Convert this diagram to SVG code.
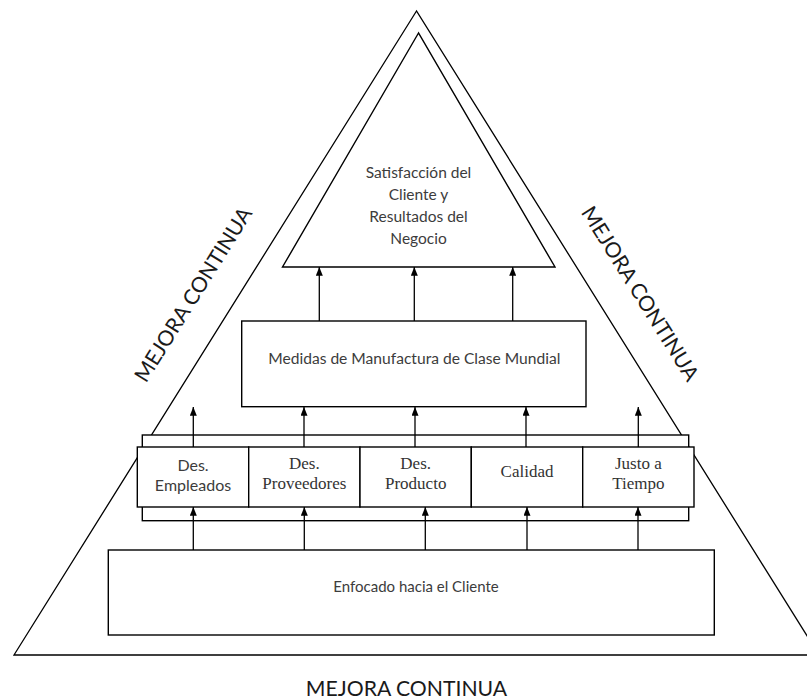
<svg xmlns="http://www.w3.org/2000/svg" width="807" height="700" viewBox="0 0 807 700">
<defs>
<style>
.ln{fill:none;stroke:#000;stroke-width:1.3}
.bx{fill:#fff;stroke:#000;stroke-width:1.4}
.sn{font-family:Lato,"Liberation Sans",sans-serif;fill:#3c3c3c;text-anchor:middle}
.sf{font-family:"Liberation Serif","Times New Roman",serif;fill:#333;text-anchor:middle;font-size:17px}
.mc{font-family:Lato,"Liberation Sans",sans-serif;fill:#1a1a1a;text-anchor:middle;font-size:21.2px}
.ar{fill:none;stroke:#000;stroke-width:1.3;marker-end:url(#ah)}
</style>
<marker id="ah" viewBox="0 0 10 8" refX="10" refY="4" markerWidth="9" markerHeight="7" markerUnits="userSpaceOnUse" orient="auto">
<path d="M0,0 L10,4 L0,8 z" fill="#000"/>
</marker>
</defs>
<rect width="807" height="700" fill="#fff"/>
<g id="outer-triangle">
<polygon class="ln" points="416.5,11 14,655 819,655"/>
</g>
<g id="satisfaccion">
<polygon class="bx" points="418.5,33 282.5,267 555,267"/>
<text class="sn" font-size="15.5" x="418.5" y="177.5">Satisfacción del</text>
<text class="sn" font-size="15.5" x="418.5" y="199.5">Cliente y</text>
<text class="sn" font-size="15.5" x="418.5" y="221.5">Resultados del</text>
<text class="sn" font-size="15.5" x="418.5" y="243.5">Negocio</text>
</g>
<g id="medidas">
<rect class="bx" x="241.7" y="321" width="344.3" height="85.7"/>
<text class="sn" font-size="15.6" x="414.3" y="364">Medidas de Manufactura de Clase Mundial</text>
</g>
<g id="pilares-marco">
<rect class="bx" x="142.3" y="435" width="546.4" height="85.7"/>
</g>
<g id="connectors">
<line class="ar" x1="319.3" y1="321" x2="319.3" y2="267"/>
<line class="ar" x1="414.3" y1="321" x2="414.3" y2="267"/>
<line class="ar" x1="512.7" y1="321" x2="512.7" y2="267"/>
<line class="ar" x1="193.3" y1="447" x2="193.3" y2="407"/>
<line class="ar" x1="304" y1="447" x2="304" y2="407"/>
<line class="ar" x1="415" y1="447" x2="415" y2="407"/>
<line class="ar" x1="526" y1="447" x2="526" y2="407"/>
<line class="ar" x1="638.3" y1="447" x2="638.3" y2="407"/>
<line class="ar" x1="193.3" y1="550" x2="193.3" y2="507"/>
<line class="ar" x1="304.3" y1="550" x2="304.3" y2="507"/>
<line class="ar" x1="425.3" y1="550" x2="425.3" y2="507"/>
<line class="ar" x1="527" y1="550" x2="527" y2="507"/>
<line class="ar" x1="638" y1="550" x2="638" y2="507"/>
</g>
<g id="des-empleados">
<rect class="bx" x="137.3" y="447" width="111.4" height="60"/>
<text class="sn" font-size="16" x="193" y="470.7">Des.</text>
<text class="sn" font-size="16" x="193" y="491">Empleados</text>
</g>
<g id="des-proveedores">
<rect class="bx" x="248.7" y="447" width="111.3" height="60"/>
<text class="sf" x="304.3" y="469.3">Des.</text>
<text class="sf" x="304.3" y="489.3">Proveedores</text>
</g>
<g id="des-producto">
<rect class="bx" x="360" y="447" width="111.3" height="60"/>
<text class="sf" x="415.7" y="469.3">Des.</text>
<text class="sf" x="415.7" y="489.3">Producto</text>
</g>
<g id="calidad">
<rect class="bx" x="471.3" y="447" width="111.4" height="60"/>
<text class="sf" x="527" y="477.3">Calidad</text>
</g>
<g id="justo-a-tiempo">
<rect class="bx" x="582.7" y="447" width="111.3" height="60"/>
<text class="sf" x="638.3" y="469">Justo a</text>
<text class="sf" x="638.3" y="489">Tiempo</text>
</g>
<g id="enfocado">
<rect class="bx" x="108.3" y="550" width="606" height="85"/>
<text class="sn" font-size="15" x="416" y="591.7">Enfocado hacia el Cliente</text>
</g>
<g id="labels">
<text class="mc" transform="translate(199.5,298.5) rotate(-57.9)">MEJORA CONTINUA</text>
<text class="mc" transform="translate(634,297.5) rotate(57.9)">MEJORA CONTINUA</text>
<text class="mc" x="406.5" y="696">MEJORA CONTINUA</text>
</g>
</svg>
